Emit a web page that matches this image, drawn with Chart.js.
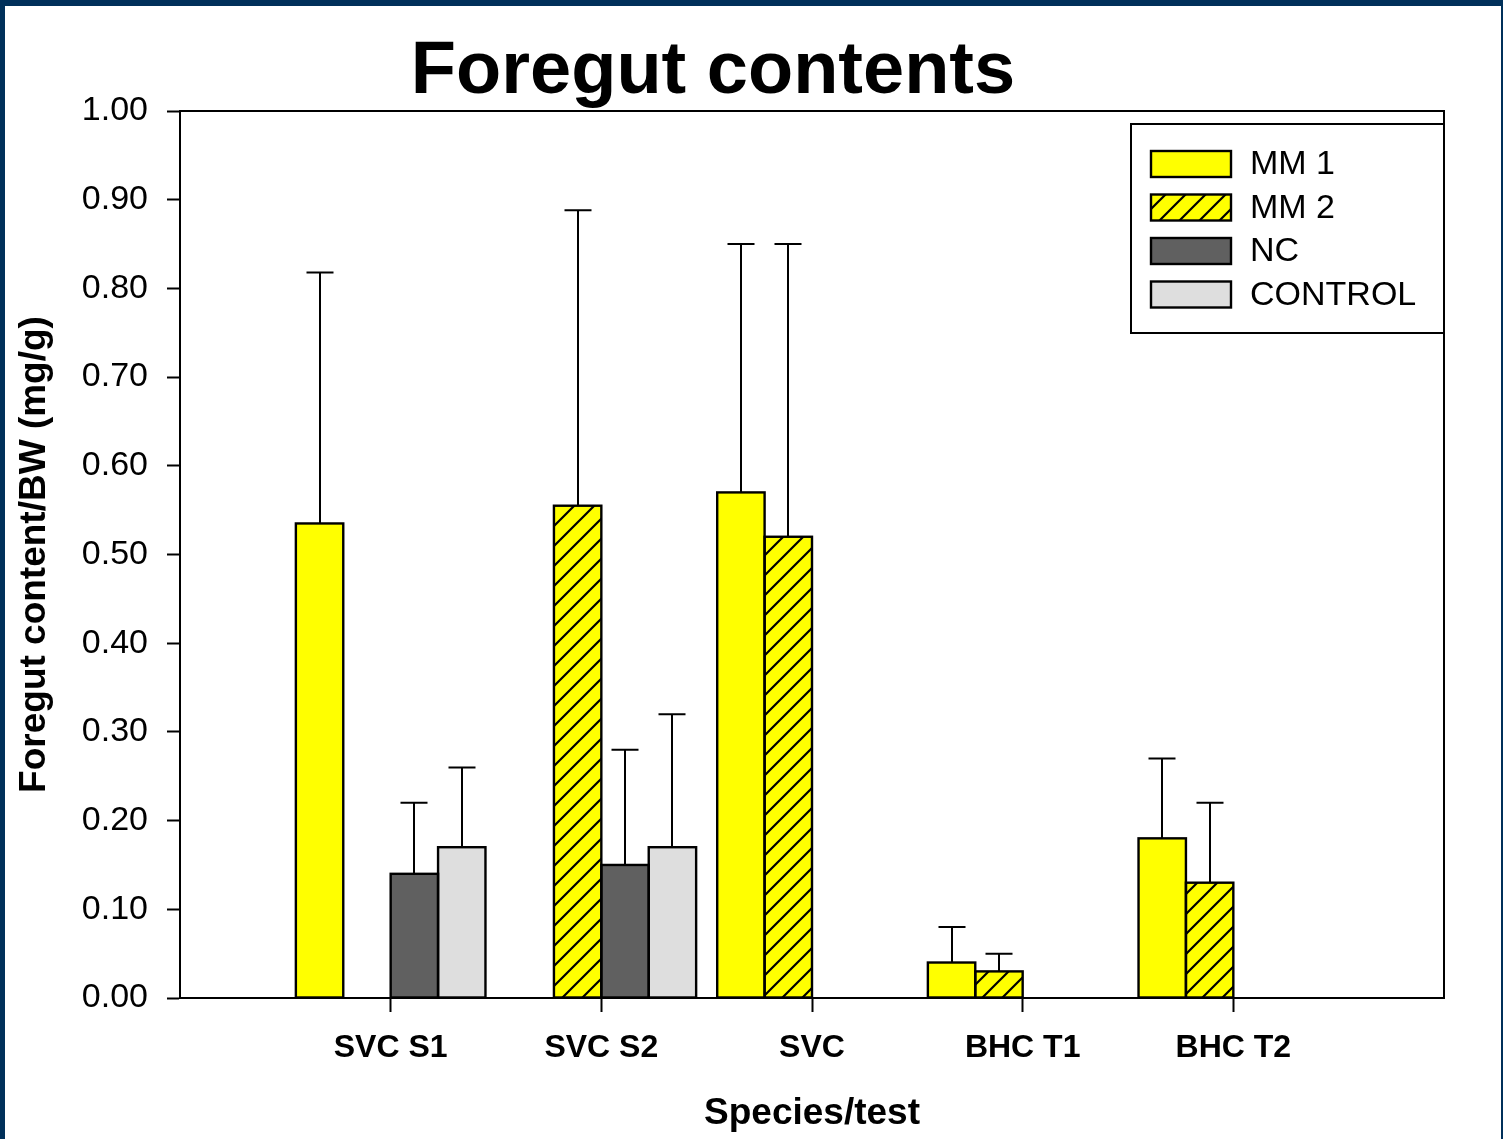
<!DOCTYPE html>
<html>
<head>
<meta charset="utf-8">
<title>Foregut contents</title>
<script src="https://cdn.jsdelivr.net/npm/chart.js@4.4.1/dist/chart.umd.min.js"></script>
<style>
  html, body { margin: 0; padding: 0; background: #ffffff; }
  canvas { display: block; }
</style>
</head>
<body>
<canvas id="chart" width="1503" height="1139"></canvas>
<script>
// ---- data ----
const categories = ['SVC S1', 'SVC S2', 'SVC', 'BHC T1', 'BHC T2'];
const seriesNames = ['MM 1', 'MM 2', 'NC', 'CONTROL'];

const mm1      = [0.535, null,  0.57, 0.04, 0.18];
const mm1Sd    = [0.283, null,  0.28, 0.04, 0.09];
const mm2      = [null,  0.555, 0.52, 0.03, 0.13];
const mm2Sd    = [null,  0.333, 0.33, 0.02, 0.09];
const nc       = [0.14,  0.15,  null, null, null];
const ncSd     = [0.08,  0.13,  null, null, null];
const control  = [0.17,  0.17,  null, null, null];
const controlSd= [0.09,  0.15,  null, null, null];

const yTickValues = [0, 0.1, 0.2, 0.3, 0.4, 0.5, 0.6, 0.7, 0.8, 0.9, 1.0];

// ---- styling helpers ----
const FONT = "'Liberation Sans', Arial, Helvetica, sans-serif";
const YELLOW = '#ffff00';
const DARK = '#606060';
const LIGHT = '#dedede';
const NAVY = '#00305a';

function makeHatch() {
  const size = 20;
  const tile = document.createElement('canvas');
  tile.width = size; tile.height = size;
  const t = tile.getContext('2d');
  t.fillStyle = YELLOW;
  t.fillRect(0, 0, size, size);
  t.strokeStyle = '#000';
  t.lineWidth = 2.2;
  t.beginPath();
  t.moveTo(-2, size + 2); t.lineTo(size + 2, -2);
  t.moveTo(-2, 2); t.lineTo(2, -2);
  t.moveTo(size - 2, size + 2); t.lineTo(size + 2, size - 2);
  t.stroke();
  return t.createPattern(tile, 'repeat');
}

const ctx = document.getElementById('chart').getContext('2d');
const hatch = makeHatch();

// one empty slot on each side of the categories
const pad = a => [null, ...a, null];
const labels = pad(categories).map(v => v === null ? '' : v);

const fills = [YELLOW, hatch, DARK, LIGHT];
const values = [mm1, mm2, nc, control];
const errors = [mm1Sd, mm2Sd, ncSd, controlSd];

const datasets = seriesNames.map((name, i) => ({
  label: name,
  data: pad(values[i]),
  sd: pad(errors[i]),
  backgroundColor: fills[i],
  borderWidth: 0,
  categoryPercentage: 0.9,
  barPercentage: 1.0
}));

// page frame, plot frame and title
const framePlugin = {
  id: 'framePlugin',
  beforeDraw(chart) {
    const c = chart.ctx;
    const W = chart.width, H = chart.height;
    c.save();
    c.fillStyle = NAVY;
    c.fillRect(0, 0, W, H);
    c.fillStyle = '#ffffff';
    c.fillRect(5, 6, W - 5 - 2, H - 6);
    c.restore();
  },
  afterDraw(chart) {
    const c = chart.ctx;
    const a = chart.chartArea;
    c.save();
    c.strokeStyle = '#000';
    c.lineWidth = 2;
    c.beginPath();
    c.moveTo(a.left, a.top);
    c.lineTo(a.right, a.top);
    c.lineTo(a.right, a.bottom);
    c.stroke();

    c.fillStyle = '#000';
    c.font = 'bold 74px ' + FONT;
    c.textAlign = 'center';
    c.textBaseline = 'alphabetic';
    c.fillText('Foregut contents', 713, 93);
    c.restore();
  }
};

// bar outlines and upward error bars
const errorBarPlugin = {
  id: 'errorBarPlugin',
  afterDatasetsDraw(chart) {
    const c = chart.ctx;
    const y = chart.scales.y;
    c.save();
    c.strokeStyle = '#000';
    c.lineWidth = 2.4;
    chart.data.datasets.forEach((ds, di) => {
      const meta = chart.getDatasetMeta(di);
      meta.data.forEach((bar, i) => {
        const v = ds.data[i];
        if (v === null || v === undefined) return;
        const p = bar.getProps(['x', 'y', 'base', 'width'], true);
        const left = p.x - p.width / 2;
        c.strokeRect(left, p.y, p.width, p.base - p.y);
      });
    });
    c.lineWidth = 2;
    chart.data.datasets.forEach((ds, di) => {
      const meta = chart.getDatasetMeta(di);
      meta.data.forEach((bar, i) => {
        const v = ds.data[i], sd = ds.sd[i];
        if (v === null || sd === null || v === undefined || sd === undefined) return;
        const p = bar.getProps(['x', 'y'], true);
        const yTop = y.getPixelForValue(v + sd);
        const x = Math.round(p.x);
        const half = 13.5;
        c.beginPath();
        c.moveTo(x, p.y);
        c.lineTo(x, yTop);
        c.moveTo(x - half, yTop);
        c.lineTo(x + half, yTop);
        c.stroke();
      });
    });
    c.restore();
  }
};

// boxed legend in the upper right of the plot
const legendPlugin = {
  id: 'legendPlugin',
  afterDraw(chart) {
    const c = chart.ctx;
    const a = chart.chartArea;
    const boxRight = a.right, boxLeft = a.right - 313, boxTop = a.top + 13, boxBottom = a.top + 222;
    c.save();
    c.fillStyle = '#ffffff';
    c.fillRect(boxLeft, boxTop, boxRight - boxLeft, boxBottom - boxTop);
    c.strokeStyle = '#000';
    c.lineWidth = 2;
    c.strokeRect(boxLeft, boxTop, boxRight - boxLeft, boxBottom - boxTop);
    c.font = '34px ' + FONT;
    c.textAlign = 'left';
    c.textBaseline = 'middle';
    chart.data.datasets.forEach((ds, i) => {
      const sy = boxTop + 27 + i * 43.5;
      const sx = boxLeft + 20;
      c.fillStyle = ds.backgroundColor;
      c.fillRect(sx, sy, 80, 26);
      c.lineWidth = 2.4;
      c.strokeStyle = '#000';
      c.strokeRect(sx, sy, 80, 26);
      c.fillStyle = '#000';
      c.fillText(ds.label, sx + 99, sy + 14);
    });
    c.restore();
  }
};

new Chart(ctx, {
  type: 'bar',
  data: { labels, datasets },
  plugins: [framePlugin, errorBarPlugin, legendPlugin],
  options: {
    responsive: false,
    animation: false,
    devicePixelRatio: 1,
    layout: { padding: { top: 111, right: 59, bottom: 0, left: 0 } },
    plugins: {
      legend: { display: false },
      title: { display: false },
      tooltip: { enabled: false }
    },
    scales: {
      x: {
        offset: false,
        grid: {
          offset: false,
          drawOnChartArea: false,
          drawTicks: true,
          tickLength: 14,
          tickWidth: 2,
          tickColor: c => (c.index === 0 || c.index === labels.length - 1) ? 'rgba(0,0,0,0)' : '#000'
        },
        border: { display: true, color: '#000', width: 2 },
        ticks: {
          color: '#000',
          font: { family: FONT, size: 32, weight: 'bold' },
          padding: 17,
          maxRotation: 0,
          autoSkip: false
        },
        title: {
          display: true,
          text: 'Species/test',
          color: '#000',
          font: { family: FONT, size: 37, weight: 'bold' },
          padding: { top: 0, bottom: 3 }
        },
        afterFit(scale) { scale.height = 141; }
      },
      y: {
        min: 0,
        max: 1,
        afterBuildTicks(scale) { scale.ticks = yTickValues.map(v => ({ value: v })); },
        grid: {
          drawOnChartArea: false,
          drawTicks: true,
          tickLength: 13,
          tickWidth: 2,
          tickColor: '#000'
        },
        border: { display: true, color: '#000', width: 2 },
        ticks: {
          color: '#000',
          font: { family: FONT, size: 34 },
          padding: 19,
          callback: v => Number(v).toFixed(2)
        },
        title: {
          display: true,
          text: 'Foregut content/BW (mg/g)',
          color: '#000',
          font: { family: FONT, size: 37, weight: 'bold' },
          padding: { top: 13, bottom: 0 }
        },
        afterFit(scale) { scale.width = 180; }
      }
    }
  }
});
</script>
</body>
</html>
